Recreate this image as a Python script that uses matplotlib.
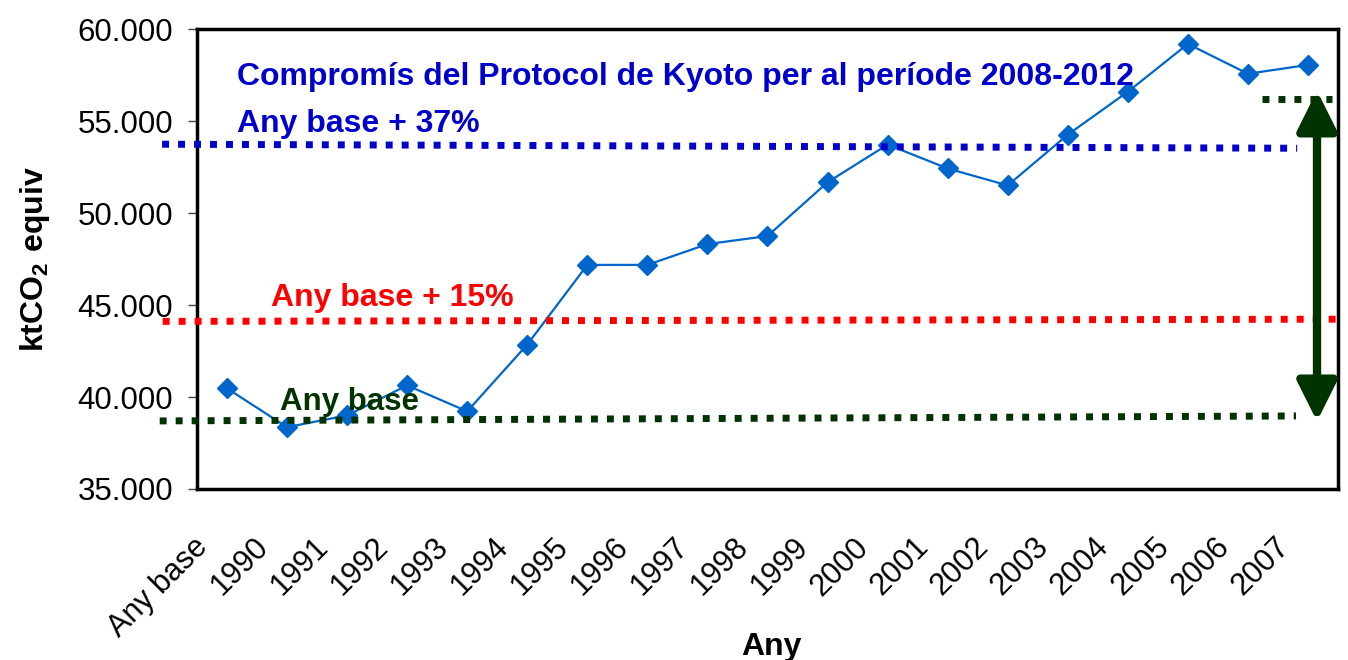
import matplotlib
matplotlib.use('Agg')
from matplotlib import pyplot as plt
from matplotlib.ticker import FuncFormatter
from matplotlib.transforms import offset_copy
import numpy as np

plt.rcParams['font.family'] = ['Liberation Sans', 'DejaVu Sans']
plt.rcParams['mathtext.fontset'] = 'custom'
plt.rcParams['mathtext.rm'] = 'Liberation Sans'
plt.rcParams['mathtext.bf'] = 'Liberation Sans:bold'

categories = ['Any base', '1990', '1991', '1992', '1993', '1994', '1995', '1996', '1997',
              '1998', '1999', '2000', '2001', '2002', '2003', '2004', '2005', '2006', '2007']
emissions = [40470, 38360, 39000, 40630, 39220, 42850, 47180, 47180, 48310,
             48750, 51670, 53720, 52420, 51500, 54260, 56590, 59190, 57570, 58050]

# reference levels drawn as free shapes: (x start, x end), (y start, y end)
kyoto_x, kyoto_y = (-1.08, 17.82), (53740, 53520)
plus15_x, plus15_y = (-1.07, 18.5), (44110, 44230)
base_x, base_y = (-1.12, 17.8), (38700, 38970)
latest_x, latest_y = (17.24, 18.40), (56190, 56190)
arrow_x, arrow_span = 18.15, (38680, 56650)

BLUE = '#0000CC'
RED = '#FF0000'
GREEN = '#003300'
SERIES = '#0066CC'

fig = plt.figure(figsize=(13.48, 6.6), dpi=100)
ax = fig.add_axes([0.1461, 0.2591, 0.8465, 0.6969])

x = np.arange(len(categories))
ax.plot(x, emissions, color=SERIES, lw=1.6, marker='D', ms=10.5, zorder=3)

ax.set_xlim(-0.5, len(categories) - 0.5)
ax.set_ylim(35000, 60000)
ax.set_yticks(np.arange(35000, 60001, 5000))
ax.yaxis.set_major_formatter(FuncFormatter(lambda v, _: f'{int(v):,}'.replace(',', '.')))
ax.tick_params(axis='y', labelsize=22.5, length=6.5, width=1, color='#444444', pad=10.5)
ax.tick_params(axis='x', length=0, pad=0)
ax.set_xticks(x)
ax.set_xticklabels(categories, fontsize=22, rotation=45, ha='right', va='top', rotation_mode='anchor')
for lbl in ax.get_xticklabels():
    lbl.set_transform(offset_copy(lbl.get_transform(), fig=fig, x=-34, y=-43, units='dots'))

for side in ax.spines.values():
    side.set_linewidth(2.5)

ax.set_ylabel(r'$\mathbf{ktCO_2\ equiv}$', fontsize=23)
ax.yaxis.set_label_coords(-0.127, 0.5)
ax.set_xlabel('Any', fontsize=23, fontweight='bold')
ax.xaxis.set_label_coords(0.503, -0.31)

dotted = dict(lw=5, linestyle=(0, (1, 1.3)), dash_capstyle='butt', clip_on=False, zorder=4)
ax.plot(kyoto_x, kyoto_y, color=BLUE, **dotted)
ax.plot(plus15_x, plus15_y, color=RED, **dotted)
ax.plot(base_x, base_y, color=GREEN, **dotted)
ax.plot(latest_x, latest_y, color=GREEN, **dotted)

ax.annotate('', xy=(arrow_x, arrow_span[1]), xytext=(arrow_x, arrow_span[0]),
            arrowprops=dict(arrowstyle='<|-|>,head_length=0.8,head_width=0.4', color=GREEN,
                            lw=6, mutation_scale=30, shrinkA=0, shrinkB=0), zorder=5)

ax.text(0.17, 56970, 'Compromís del Protocol de Kyoto per al període 2008-2012',
        color=BLUE, fontsize=23, fontweight='bold', va='baseline', zorder=6)
ax.text(0.17, 54390, 'Any base + 37%', color=BLUE, fontsize=23, fontweight='bold', va='baseline', zorder=6)
ax.text(0.74, 44960, 'Any base + 15%', color=RED, fontsize=23, fontweight='bold', va='baseline', zorder=6)
ax.text(0.88, 39290, 'Any base', color=GREEN, fontsize=22.5, fontweight='bold', va='baseline', zorder=6)

fig.savefig('out.png', dpi=100)
